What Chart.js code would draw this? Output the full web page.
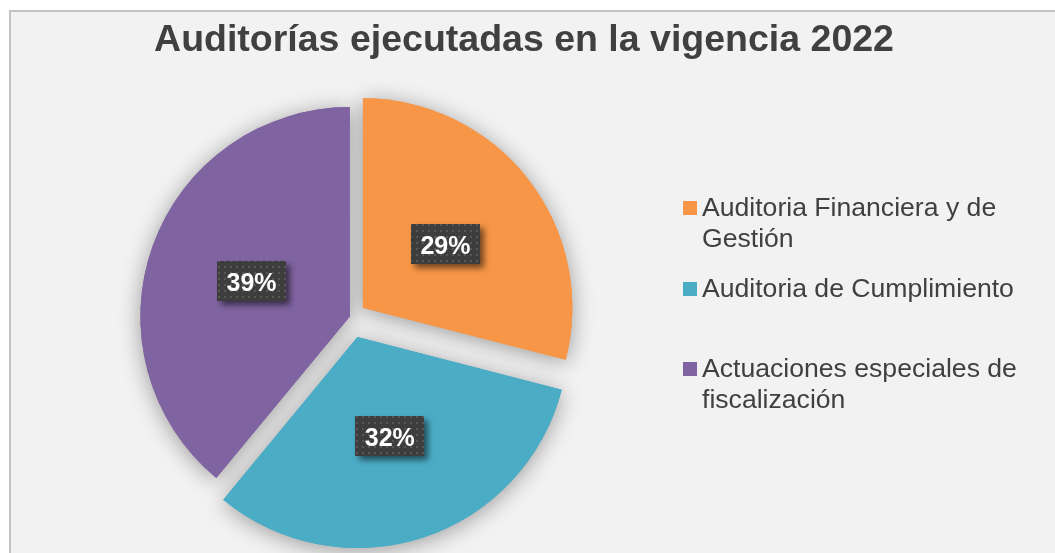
<!DOCTYPE html>
<html lang="es">
<head>
<meta charset="UTF-8">
<title>Auditorías ejecutadas en la vigencia 2022</title>
<script src="https://cdn.jsdelivr.net/npm/chart.js"></script>
<style>
  html, body { margin: 0; padding: 0; background: #ffffff; overflow: hidden; }
  #frame {
    position: absolute; left: 9px; top: 10px;
    width: 1100px; height: 600px;
    background: #f2f2f2; border: 2px solid #c4c4c4;
  }
  #chart { position: absolute; left: 0; top: 0; }
</style>
</head>
<body>
<div id="frame"></div>
<canvas id="chart" width="1055" height="553"></canvas>
<script>
  // Datos del gráfico
  const chartTitle = 'Auditorías ejecutadas en la vigencia 2022';
  const categories = [
    'Auditoria Financiera y de Gestión',
    'Auditoria de Cumplimiento',
    'Actuaciones especiales de fiscalización'
  ];
  const percentages = [29, 32, 39];
  const sliceColors = ['#f79646', '#4bacc6', '#8064a2'];
  // separación de cada porción (px que se desplaza * 4, así lo usa ArcElement)
  const sliceOffsets = [60, 84, 5];

  const textColor = '#404040';
  const fontFamily = '"Liberation Sans", Arial, sans-serif';

  // sombra suave de las porciones, se pinta antes que el pastel
  const pieShadow = {
    id: 'pieShadow',
    beforeDatasetsDraw(chart) {
      const ctx = chart.ctx;
      chart.getDatasetMeta(0).data.forEach(arc => {
        ctx.save();
        ctx.shadowColor = 'rgba(0,0,0,0.36)';
        ctx.shadowBlur = 22;
        ctx.shadowOffsetY = 3;
        arc.draw(ctx);
        ctx.restore();
      });
    }
  };

  // etiquetas con fondo oscuro punteado
  function dotPattern(ctx) {
    const tile = document.createElement('canvas');
    tile.width = 6; tile.height = 6;
    const t = tile.getContext('2d');
    t.fillStyle = '#3d3d3d';
    t.fillRect(0, 0, 6, 6);
    t.fillStyle = '#575757';
    t.fillRect(2, 2, 2, 2);
    return ctx.createPattern(tile, 'repeat');
  }

  const valueLabels = {
    id: 'valueLabels',
    afterDatasetsDraw(chart) {
      const ctx = chart.ctx;
      const pattern = dotPattern(ctx);
      const meta = chart.getDatasetMeta(0);
      meta.data.forEach((arc, i) => {
        const p = arc.getProps(['x', 'y', 'startAngle', 'endAngle', 'outerRadius'], true);
        const half = (p.startAngle + p.endAngle) / 2;
        const d = (arc.options.offset || 0) / 4 + p.outerRadius / 2;
        const cx = p.x + Math.cos(half) * d;
        const cy = p.y + Math.sin(half) * d;
        const w = 69, h = 40;
        ctx.save();
        ctx.shadowColor = 'rgba(0,0,0,0.55)';
        ctx.shadowBlur = 6;
        ctx.shadowOffsetX = 4;
        ctx.shadowOffsetY = 4;
        ctx.fillStyle = pattern;
        ctx.fillRect(Math.round(cx - w / 2), Math.round(cy - h / 2), w, h);
        ctx.restore();
        ctx.save();
        ctx.fillStyle = '#ffffff';
        ctx.font = 'bold 25px ' + fontFamily;
        ctx.textAlign = 'center';
        ctx.textBaseline = 'alphabetic';
        ctx.fillText(percentages[i] + '%', cx, cy + 10);
        ctx.restore();
      });
    }
  };

  function wrapText(ctx, text, maxWidth) {
    const words = text.split(' ');
    const lines = [];
    let line = '';
    words.forEach(w => {
      const test = line ? line + ' ' + w : w;
      if (line && ctx.measureText(test).width > maxWidth) {
        lines.push(line);
        line = w;
      } else {
        line = test;
      }
    });
    if (line) lines.push(line);
    return lines;
  }

  // título y leyenda a la derecha
  const titleAndLegend = {
    id: 'titleAndLegend',
    afterDraw(chart) {
      const ctx = chart.ctx;
      ctx.save();
      ctx.fillStyle = textColor;
      ctx.font = 'bold 37.5px ' + fontFamily;
      ctx.textAlign = 'center';
      ctx.textBaseline = 'alphabetic';
      ctx.fillText(chartTitle, 524, 51);

      const baselines = [216, 297, 377];
      ctx.font = '26.6px ' + fontFamily;
      ctx.textAlign = 'left';
      categories.forEach((label, i) => {
        const y = baselines[i];
        ctx.fillStyle = sliceColors[i];
        ctx.fillRect(683, y - 15, 14, 14);
        ctx.fillStyle = textColor;
        wrapText(ctx, label, 335).forEach((ln, k) => {
          ctx.fillText(ln, 702, y + k * 31);
        });
      });
      ctx.restore();
    }
  };

  new Chart(document.getElementById('chart'), {
    type: 'pie',
    data: {
      labels: categories,
      datasets: [{
        data: percentages,
        backgroundColor: sliceColors,
        borderWidth: 0,
        offset: sliceOffsets
      }]
    },
    options: {
      responsive: false,
      animation: false,
      radius: 209,
      layout: { padding: { left: 100, right: 453, top: 100, bottom: 19 } },
      events: [],
      plugins: {
        legend: { display: false },
        title: { display: false },
        tooltip: { enabled: false }
      }
    },
    plugins: [pieShadow, valueLabels, titleAndLegend]
  });
</script>
</body>
</html>
